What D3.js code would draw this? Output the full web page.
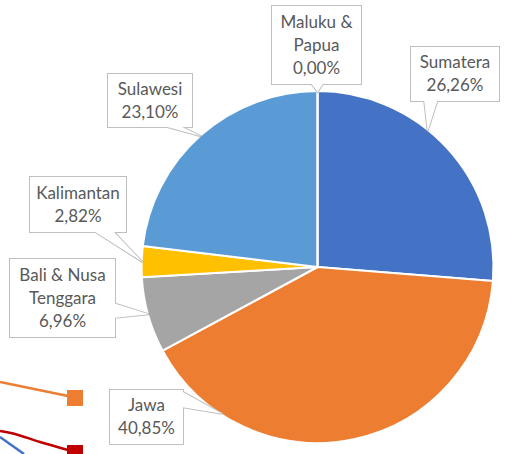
<!DOCTYPE html>
<html>
<head>
<meta charset="utf-8">
<script src="https://cdn.jsdelivr.net/npm/d3@7"></script>
<style>
  html, body { margin: 0; padding: 0; background: #ffffff; }
  svg { display: block; }
</style>
</head>
<body>
<svg id="chart" width="505" height="454"></svg>
<script>
// ---- data ----
const categories = ["Sumatera", "Jawa", "Bali & Nusa Tenggara", "Kalimantan", "Sulawesi", "Maluku & Papua"];
const values = [26.26, 40.85, 6.96, 2.82, 23.10, 0.00];
const valueLabels = ["26,26%", "40,85%", "6,96%", "2,82%", "23,10%", "0,00%"];
const labelLines = [["Sumatera"], ["Jawa"], ["Bali & Nusa", "Tenggara"], ["Kalimantan"], ["Sulawesi"], ["Maluku &", "Papua"]];
const colors = ["#4472C4", "#ED7D31", "#A5A5A5", "#FFC000", "#5B9BD5", "#70AD47"];

// fragments of a neighbouring chart visible at the bottom-left edge
const fragOrange = [[0, 382], [68, 396]];
const fragRed = [[0, 431], [15, 434], [40, 442], [68, 450]];
const fragBlue = [[0, 437], [24, 454]];

// ---- layout ----
const W = 505, H = 454;
const cx = 317.5, cy = 267, R = 176;
const svg = d3.select("#chart");

// callout layout: box [x0,y0,x1,y1], pointer base points, pointer tip angle (deg)
const callouts = [
  { box: [411, 47, 499, 101], base: [[424, 99], [438, 99]], tipDeg: 39 },
  { box: [110, 390, 183, 444], base: [[181, 391], [181, 407]], tipDeg: 213 },
  { box: [10, 259, 115, 337], base: [[113, 303], [113, 318]], tipDeg: 254.3 },
  { box: [30, 177, 126, 232], base: [[92, 230], [112, 230]], tipDeg: 271.6 },
  { box: [108, 74, 192, 127], base: [[160, 125], [178, 125]], tipDeg: 318.3 },
  { box: [272, 6, 361, 84], base: [[310, 82], [324, 82]], tipDeg: 0 }
];

// ---- fragments ----
const line = d3.line();
svg.append("path").attr("d", line(fragOrange)).attr("fill", "none").attr("stroke", "#ED7D31").attr("stroke-width", 2.5);
svg.append("path").attr("d", d3.line().curve(d3.curveCatmullRom)(fragRed)).attr("fill", "none").attr("stroke", "#C00000").attr("stroke-width", 2.5);
svg.append("path").attr("d", line(fragBlue)).attr("fill", "none").attr("stroke", "#4472C4").attr("stroke-width", 2.5);
svg.append("rect").attr("x", 67).attr("y", 390).attr("width", 16).attr("height", 16).attr("fill", "#ED7D31");
svg.append("rect").attr("x", 67).attr("y", 445).attr("width", 16).attr("height", 16).attr("fill", "#C00000");

// ---- pie ----
const pie = d3.pie().sort(null).value(d => d).startAngle(0).endAngle(2 * Math.PI);
const arcs = pie(values);
const arc = d3.arc().innerRadius(0).outerRadius(R);
const g = svg.append("g").attr("transform", `translate(${cx},${cy})`);
g.selectAll("path.slice").data(arcs).enter().append("path")
  .attr("class", "slice")
  .attr("d", arc)
  .attr("fill", (d, i) => colors[i])
  .attr("stroke", "#ffffff")
  .attr("stroke-width", 2)
  .attr("stroke-linejoin", "round");

// ---- callouts ----
function tipPoint(deg) {
  const a = deg * Math.PI / 180;
  return [cx + Math.sin(a) * (R - 1), cy - Math.cos(a) * (R - 1)];
}
const cg = svg.append("g");
const shapes = callouts.map(c => {
  const [x0, y0, x1, y1] = c.box;
  const tip = tipPoint(c.tipDeg);
  return { rect: [x0, y0, x1 - x0, y1 - y0], tri: [c.base[0], tip, c.base[1]] };
});
// strokes first (2px), then fills cover inner halves -> 1px union outline
shapes.forEach(s => {
  cg.append("rect").attr("x", s.rect[0]).attr("y", s.rect[1]).attr("width", s.rect[2]).attr("height", s.rect[3])
    .attr("fill", "none").attr("stroke", "#BFBFBF").attr("stroke-width", 2);
  cg.append("path").attr("d", d3.line()(s.tri) + "Z").attr("fill", "none").attr("stroke", "#BFBFBF").attr("stroke-width", 2).attr("stroke-linejoin", "miter");
});
shapes.forEach(s => {
  cg.append("rect").attr("x", s.rect[0]).attr("y", s.rect[1]).attr("width", s.rect[2]).attr("height", s.rect[3])
    .attr("fill", "#ffffff");
  cg.append("path").attr("d", d3.line()(s.tri) + "Z").attr("fill", "#ffffff");
});

// texts
const lineH = 23;
callouts.forEach((c, i) => {
  const [x0, y0, x1, y1] = c.box;
  const lines = labelLines[i].concat([valueLabels[i]]);
  const mx = (x0 + x1) / 2, my = (y0 + y1) / 2;
  const startY = my - (lines.length - 1) * lineH / 2;
  const t = cg.append("text")
    .attr("font-family", "Lato, 'Open Sans', sans-serif")
    .attr("font-size", 17)
    .attr("fill", "#595959")
    .attr("text-anchor", "middle");
  lines.forEach((ln, k) => {
    t.append("tspan").attr("x", mx).attr("y", startY + k * lineH).attr("dy", "0.35em").text(ln);
  });
});
</script>
</body>
</html>
